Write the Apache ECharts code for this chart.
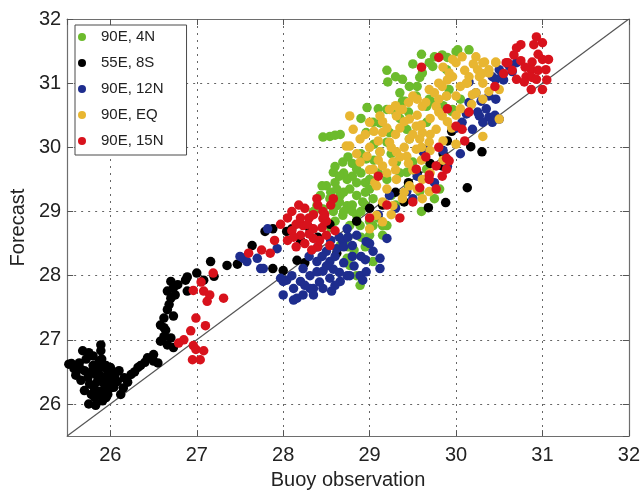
<!DOCTYPE html>
<html>
<head>
<meta charset="utf-8">
<script src="https://cdn.jsdelivr.net/npm/echarts@6/dist/echarts.min.js"></script>
<style>
html,body{margin:0;padding:0;background:#fff;}
#chart{width:643px;height:495px;}
</style>
</head>
<body>
<div id="chart"></div>
<script>
// Axis settings
const axisMin = 25.5;
const axisMax = 32;
const diagonal = [[25.5, 25.5], [32, 32]];
const xTitle = 'Buoy observation';
const yTitle = 'Forecast';
const seriesNames = ['90E, 4N', '55E, 8S', '90E, 12N', '90E, EQ', '90E, 15N'];
const seriesColors = ['#6cbb2c', '#000000', '#1e2d8e', '#e8b631', '#d8121c'];

// 90E, 4N
const green = [
[28.54,30.17],[28.66,30.2],[28.46,30.16],[28.6,30.19],[28.69,29.77],[28.58,29.61],[28.74,29.5],[28.5,29.4],[28.43,29.25],[28.54,29.2],
[28.66,29.25],[28.77,29.35],[28.85,29.25],[28.62,29.09],[28.74,29.09],[28.92,29.15],[29.04,29.2],[28.58,29.0],[28.69,28.94],[28.85,28.94],
[28.77,28.78],[28.89,28.78],[29.04,28.78],[29.0,28.63],[29.15,28.78],[28.74,28.27],[28.77,28.16],[28.89,28.0],[29.04,28.22],[28.85,29.66],
[28.96,29.82],[29.12,29.93],[28.96,30.23],[29.12,30.38],[29.2,30.08],[29.31,29.77],[29.43,29.61],[29.5,29.77],[29.66,29.66],[29.81,29.35],
[29.58,29.31],[28.43,29.04],[28.35,29.0],[29.21,31.02],[29.58,31.09],[29.75,31.41],[29.84,31.44],[30.0,31.49],[30.15,31.52],[29.61,31.16],
[29.69,31.32],[29.89,31.21],[29.54,30.8],[29.38,30.72],[29.2,30.59],[28.97,30.62],[29.04,30.39],[29.23,30.23],[29.43,30.28],[29.75,30.7],
[29.92,30.9],[29.96,30.59],[29.35,30.85],[29.46,30.95],[29.38,31.06],[29.66,30.39],[29.46,30.13],[29.73,31.26],[29.69,30.75],[29.41,30.72],
[29.66,30.64],[29.89,30.8],[29.95,30.56],[30.02,31.52],[28.85,28.0],[28.89,27.85],[29.15,28.63],[29.2,28.78],[28.66,28.47],[28.39,29.09],
[28.46,29.04],[28.8,29.55],[28.95,29.45],[29.1,29.6],[28.7,29.3],[28.9,29.0],[29.0,29.35],[28.6,28.85],[28.75,28.6],[28.95,28.45],
[29.1,28.9],[29.3,29.1],[29.45,29.4],[29.6,29.0],[29.75,29.2],[29.25,29.9],[29.05,30.05],[29.35,30.45],[28.82,28.4],[28.55,28.75],
[28.6,29.45],[28.7,29.6],[28.8,29.75],[28.9,29.6],[29.0,29.5],[28.65,29.15],[28.8,29.1],[28.95,29.1],[28.7,29.0],[28.85,28.85],
[29.0,28.85],[28.55,29.3],[28.45,29.4],[28.6,29.7],[28.75,29.85],[28.9,29.9],[29.05,29.8],[29.2,29.5],[29.35,29.6],[29.25,29.25],
[28.75,28.45],[28.9,28.6],[28.8,28.3],[29.2,31.2],[29.3,31.1],[29.5,31.3],[29.6,31.45],[29.9,31.4],[29.55,30.95],[29.3,30.55],
[29.1,30.6],[28.9,30.45],[29.85,30.65],[30.05,30.75],[29.45,30.55],[28.65,29.55],[28.85,29.45],[28.95,29.3],[28.8,29.0],[28.62,29.35]
];

// 55E, 8S
const black = [
[25.52,26.62],[25.55,26.63],[25.68,26.83],[25.64,26.64],[25.7,26.52],[25.66,26.37],[25.74,26.41],[25.8,26.6],[25.89,26.92],[25.89,26.83],
[25.87,26.67],[25.83,26.46],[25.81,26.26],[25.78,26.15],[25.86,26.15],[25.83,25.98],[25.91,26.05],[25.93,26.31],[25.97,26.46],[26.0,26.37],
[26.04,26.26],[26.1,26.52],[25.93,26.57],[26.0,26.57],[25.93,26.21],[25.7,26.21],[25.76,26.31],[26.16,26.41],[26.24,26.46],[26.32,26.57],
[26.2,26.34],[26.12,26.15],[26.35,26.6],[26.43,26.72],[26.5,26.77],[26.55,26.64],[26.5,26.67],[26.58,26.98],[26.66,26.92],[26.73,26.88],
[26.7,27.03],[26.62,27.19],[26.58,27.23],[26.62,27.34],[26.66,27.47],[26.73,27.37],[26.7,27.65],[26.66,27.76],[26.73,27.81],[26.7,27.91],
[26.78,27.86],[26.87,27.93],[26.89,27.76],[27.0,28.04],[27.08,27.93],[27.16,28.22],[27.35,28.16],[27.2,27.99],[26.89,27.98],[27.47,28.18],
[27.64,28.47],[27.79,28.69],[27.88,28.73],[28.04,28.69],[28.1,28.73],[28.16,28.24],[28.0,28.08],[27.88,28.11],[25.6,26.45],[25.75,26.0],
[25.95,26.1],[25.85,26.35],[26.05,26.45],[25.9,26.7],[25.8,26.75],[28.2,28.55],[28.3,28.75],[28.4,28.6],[28.54,28.8],[28.62,28.35],
[28.25,28.2],[28.85,28.85],[29.0,29.05],[29.15,29.1],[29.3,29.3],[29.45,29.45],[29.55,29.6],[29.7,29.75],[29.85,29.9],[29.68,29.06],
[29.88,29.14],[30.13,29.37],[30.17,30.01],[30.3,29.93],[29.95,30.25],[29.4,29.15],[29.9,30.1],[29.84,29.71],
[25.72,26.7],[25.78,26.5],[25.85,26.55],[25.95,26.6],[26.0,26.25],[25.9,26.4],[25.82,26.1],[25.88,26.2],[25.97,26.15],[26.08,26.35],
[26.15,26.25],[25.65,26.55],[25.58,26.55],[25.75,26.8],[25.88,26.45],[26.02,26.5],[26.28,26.5],[26.4,26.65],[26.62,27.05],[26.68,27.55],
[26.75,27.7],[26.64,27.15]
];

// 90E, 12N
const blue = [
[28.74,28.73],[28.85,28.63],[28.69,28.53],[28.8,28.47],[28.96,28.53],[28.62,28.42],[29.04,28.38],[29.12,28.27],[28.5,28.38],[28.54,28.22],
[28.46,28.07],[28.54,27.96],[28.39,28.22],[28.31,28.0],[28.23,28.11],[28.2,27.91],[28.12,27.8],[28.16,27.65],[28.35,27.8],[28.04,27.93],
[28.0,27.7],[28.46,27.8],[28.74,28.0],[28.89,28.0],[29.12,28.11],[29.2,28.58],[28.35,27.7],[28.12,27.62],[28.23,27.7],[28.31,27.8],
[28.56,27.76],[28.66,27.91],[28.77,28.0],[28.92,27.93],[28.96,28.06],[28.0,27.91],[28.39,28.06],[27.54,28.27],[27.58,28.22],[27.5,28.3],
[27.74,28.11],[27.77,28.11],[27.82,28.73],[27.93,28.42],[27.97,27.96],[27.7,28.27],[29.23,29.25],[29.43,29.31],[29.62,29.93],[29.66,29.97],
[29.3,29.05],[29.5,29.2],[29.75,29.45],[29.9,29.7],[30.05,29.9],[29.1,28.95],[30.12,30.52],[30.27,30.49],[30.38,30.47],[30.5,30.44],
[30.31,30.39],[30.42,30.39],[30.07,30.39],[30.19,30.28],[30.5,31.21],[30.62,31.26],[30.7,31.32],[30.53,31.16],[30.42,31.1],[30.65,31.18],
[30.46,31.06],[30.23,30.85],[30.15,31.02],[30.46,30.75],[30.38,30.8],[30.15,30.7],[30.29,30.72],[28.65,28.6],[28.9,28.3],[28.58,28.1],
[28.7,28.2],[28.82,28.15],
[28.6,28.3],[28.7,28.45],[28.75,28.6],[28.55,28.55],[28.45,28.3],[28.4,28.45],[28.3,28.3],[28.5,28.15],[28.65,28.05],[28.8,28.3],
[28.95,28.25],[29.0,28.5],[28.6,27.85],[28.42,27.9],[28.25,27.85],[28.1,28.0],[30.6,31.3],[30.55,31.05],[30.35,30.6],[30.25,30.55],
[30.45,30.5],[30.0,30.3],[29.85,29.95],[29.55,29.55]
];

// 90E, EQ
const yellow = [
[28.77,30.02],[28.89,30.13],[28.81,30.28],[29.0,30.39],[29.12,30.49],[29.23,30.59],[29.31,30.49],[29.38,30.59],[29.46,30.44],[29.54,30.33],
[29.61,30.23],[29.15,30.23],[29.23,30.08],[29.31,29.93],[29.12,29.93],[28.97,29.86],[28.89,29.77],[29.04,29.66],[29.15,29.71],[29.27,29.77],
[29.43,29.86],[29.54,29.97],[29.46,30.13],[29.69,30.08],[29.77,30.28],[29.84,30.49],[29.77,30.64],[29.61,30.64],[29.5,30.8],[29.69,30.9],
[29.84,30.95],[29.92,31.16],[30.0,31.32],[30.07,31.41],[30.23,31.41],[30.31,31.32],[30.38,31.21],[30.46,31.32],[30.27,31.1],[30.12,31.0],
[30.0,30.8],[30.23,30.85],[30.31,30.75],[30.38,30.87],[30.5,30.9],[30.5,30.44],[29.89,30.8],[29.96,31.1],[29.06,29.45],
[29.08,29.4],[29.2,29.35],[29.31,29.5],[29.38,29.2],[29.27,29.09],[29.46,29.4],[29.61,29.5],[29.69,29.31],[29.08,28.94],
[29.15,28.84],[29.0,28.73],[29.61,29.2],[28.77,30.49],[28.73,30.02],[30.33,31.33],[30.46,31.33],[30.25,31.21],[30.38,31.16],[29.96,31.37],
[30.13,31.0],[30.31,31.0],[30.19,30.82],[30.18,30.67],[30.31,30.17],[29.58,30.13],[29.35,30.59],[29.4,30.0],[29.55,30.5],[29.7,30.45],
[29.35,30.3],[29.1,30.1],[29.0,30.0],[29.5,29.65],[29.6,29.8],[29.7,29.6],[29.85,30.1],[29.95,30.3],[30.05,30.6],[30.1,31.2],
[30.2,31.3],[29.8,31.0],[29.75,30.85],
[29.2,30.3],[29.3,30.2],[29.4,30.4],[29.5,30.2],[29.6,30.35],[29.7,30.2],[29.25,30.0],[29.35,29.85],[29.45,29.75],[29.2,29.6],
[29.1,29.8],[29.0,29.65],[28.95,30.2],[28.85,29.9],[29.05,30.25],[29.15,30.4],[29.3,30.65],[29.45,30.7],[29.55,30.75],[29.65,30.7],
[29.8,30.55],[29.9,30.4],[30.0,30.5],[30.05,30.95],[29.9,31.05],[30.15,31.1],[30.3,31.15],[29.85,31.25],[29.8,30.75],[29.4,29.3],
[29.55,29.35],[29.7,29.95],[29.6,30.0],[29.3,29.65],[29.85,29.8],[30.0,30.05],[29.15,29.15],[29.25,28.95]
];

// 90E, 15N
const red = [
[27.19,28.04],[27.08,27.76],[26.96,27.77],[27.12,27.6],[27.31,27.65],[26.99,27.34],[27.1,27.22],[26.93,27.14],[26.85,27.0],[26.79,26.95],
[26.96,26.91],[26.99,26.85],[26.95,26.69],[27.04,26.69],[27.08,26.83],[27.05,27.9],[27.15,27.7],[28.1,29.0],[28.39,29.2],[28.23,28.78],
[28.35,28.73],[28.46,28.89],[28.2,28.63],[28.35,28.58],[28.5,28.63],[28.54,28.47],[28.46,29.0],[28.58,29.2],[28.3,28.9],[28.15,28.8],
[28.4,28.45],[28.25,28.5],[28.6,28.7],[27.97,28.8],[28.05,28.55],[27.75,28.4],[27.6,28.35],[29.58,29.37],[29.69,29.57],[29.89,29.83],
[29.77,29.35],[30.0,30.33],[30.07,30.28],[29.77,29.71],[29.84,29.55],[29.92,29.79],[29.2,29.1],[29.35,28.9],[29.5,29.15],[29.0,28.9],
[29.1,29.55],[29.65,29.85],[29.8,30.0],[30.1,30.1],[30.15,30.55],[29.9,30.6],[29.6,31.25],[29.8,31.4],[30.93,31.72],[31.0,31.63],
[30.75,31.6],[30.9,31.6],[30.67,31.44],[30.6,31.32],[30.88,31.33],[31.0,31.37],[31.07,31.37],[30.87,31.21],[31.04,31.21],[30.81,31.1],
[30.7,31.06],[30.88,31.09],[30.79,31.02],[30.93,31.06],[30.87,30.9],[31.0,30.9],[30.58,31.32],[30.55,31.15],[30.45,30.95],[29.54,29.66],
[29.69,29.5],[29.89,29.66],
[28.2,28.9],[28.3,28.65],[28.35,28.95],[28.45,28.75],[28.25,29.05],[28.1,28.7],[28.05,28.9],[28.5,28.85],[28.4,29.1],[28.15,28.45],
[27.9,28.55],[27.85,28.35],[28.55,29.1],[30.75,31.35],[30.95,31.45],[30.8,31.25],[30.95,31.2],[31.05,31.05],[30.65,31.2],[30.7,31.55],
[28.28,28.8],[28.42,28.55],[28.12,28.6],[28.33,28.4],[28.48,28.95],[28.18,29.1]
];

const seriesData = [green, black, blue, yellow, red];
const FONT = '"Liberation Sans", Arial, Helvetica, sans-serif';

const chart = echarts.init(document.getElementById('chart'), null, {renderer: 'canvas'});
const fmt = function (v) { return (Math.abs(v - Math.round(v)) < 1e-9) ? String(Math.round(v)) : ''; };
const frameLine = {show: true, lineStyle: {color: '#6e6e6e', width: 1.2}};
const dotted = {show: true, lineStyle: {color: '#666', width: 1, type: [2, 5]}};

const option = {
  animation: false,
  backgroundColor: '#fff',
  grid: {left: 66, right: 13, top: 19, bottom: 56, containLabel: false},
  legend: {
    data: seriesNames,
    orient: 'vertical',
    left: 75, top: 25,
    padding: [3, 23, 5, 3],
    itemWidth: 10, itemHeight: 8, itemGap: 8,
    icon: 'circle',
    backgroundColor: '#fff',
    borderColor: '#4a4a4a', borderWidth: 1,
    textStyle: {fontFamily: FONT, fontSize: 15, color: '#222', lineHeight: 18, padding: [0, 0, 0, 9]}
  },
  xAxis: [{
    type: 'value', min: axisMin, max: axisMax, position: 'bottom',
    name: xTitle, nameLocation: 'middle', nameGap: 31,
    nameTextStyle: {fontFamily: FONT, fontSize: 20, color: '#222'},
    axisLine: frameLine,
    axisTick: {show: true, inside: true, length: 6, lineStyle: {color: '#555'}},
    axisLabel: {formatter: fmt, fontFamily: FONT, fontSize: 20, color: '#222', margin: 9, showMinLabel: false},
    splitLine: dotted
  }, {
    type: 'value', min: axisMin, max: axisMax, position: 'top',
    axisLine: frameLine,
    axisTick: {show: true, inside: true, length: 6, lineStyle: {color: '#555'}},
    axisLabel: {show: false}, splitLine: {show: false}
  }],
  yAxis: [{
    type: 'value', min: axisMin, max: axisMax, position: 'left',
    name: yTitle, nameLocation: 'middle', nameGap: 25,
    nameTextStyle: {fontFamily: FONT, fontSize: 20, color: '#222'},
    axisLine: frameLine,
    axisTick: {show: true, inside: true, length: 6, lineStyle: {color: '#555'}},
    axisLabel: {formatter: fmt, fontFamily: FONT, fontSize: 20, color: '#222', margin: 6, showMinLabel: false},
    splitLine: dotted
  }, {
    type: 'value', min: axisMin, max: axisMax, position: 'right',
    axisLine: frameLine,
    axisTick: {show: true, inside: true, length: 6, lineStyle: {color: '#555'}},
    axisLabel: {show: false}, splitLine: {show: false}
  }],
  series: [{
    type: 'line', name: 'diag', data: diagonal, xAxisIndex: 0, yAxisIndex: 0,
    symbol: 'none', silent: true, z: 1,
    lineStyle: {color: '#555', width: 1.2}
  }].concat(seriesNames.map(function (n, i) {
    return {
      type: 'scatter', name: n, data: seriesData[i], xAxisIndex: 0, yAxisIndex: 0,
      symbol: 'circle', symbolSize: 9.5, z: 2 + i,
      itemStyle: {color: seriesColors[i], opacity: 1}
    };
  }))
};
chart.setOption(option);
</script>
</body>
</html>
